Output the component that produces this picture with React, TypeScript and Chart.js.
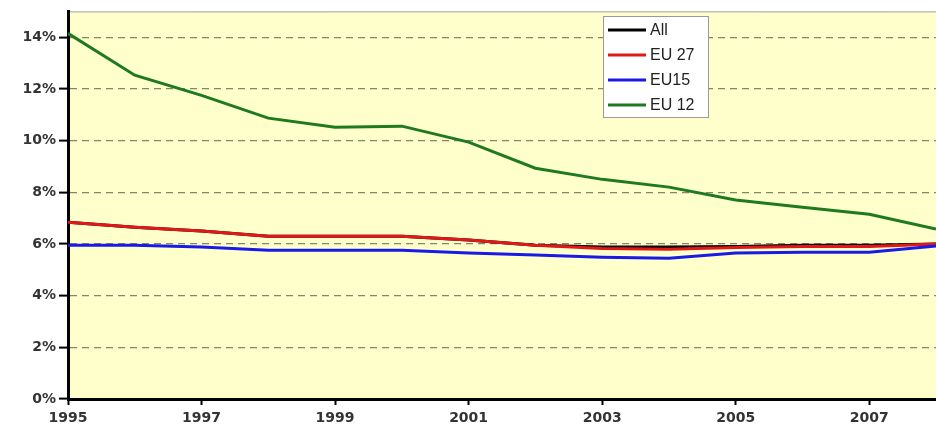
import React, { useEffect, useRef } from "react";
import { Chart, registerables } from "chart.js";

Chart.register(...registerables);

const years = [1995, 1996, 1997, 1998, 1999, 2000, 2001, 2002, 2003, 2004, 2005, 2006, 2007, 2008];
const xTickYears = [1995, 1997, 1999, 2001, 2003, 2005, 2007];
const yTickValues = [0, 2, 4, 6, 8, 10, 12, 14];

const seriesNames = ["All", "EU 27", "EU15", "EU 12"];
const seriesColors = ["#000000", "#e01818", "#1a1ae6", "#1f7a1f"];

const allValues = [6.84, 6.65, 6.5, 6.3, 6.3, 6.3, 6.15, 5.95, 5.88, 5.88, 5.9, 5.95, 5.95, 6.0];
const eu27Values = [6.84, 6.65, 6.5, 6.3, 6.3, 6.3, 6.15, 5.95, 5.82, 5.8, 5.86, 5.9, 5.9, 6.0];
const eu15Values = [5.95, 5.95, 5.88, 5.76, 5.76, 5.76, 5.65, 5.57, 5.49, 5.45, 5.65, 5.68, 5.68, 5.92];
const eu12Values = [14.15, 12.53, 11.75, 10.87, 10.52, 10.56, 9.94, 8.93, 8.5, 8.2, 7.7, 7.42, 7.15, 6.58];

const seriesValues = [allValues, eu27Values, eu15Values, eu12Values];

const TICK_FONT = "'DejaVu Sans', Verdana, sans-serif";
const LEGEND_FONT = "'Liberation Sans', Arial, sans-serif";

const bgPlugin = {
  id: "bgPlugin",
  beforeDraw(chart: any) {
    const { ctx, chartArea } = chart;
    ctx.save();
    ctx.fillStyle = "#ffffcc";
    ctx.fillRect(chartArea.left, chartArea.top, chartArea.right - chartArea.left, chartArea.bottom - chartArea.top);
    ctx.strokeStyle = "#a0a0a0";
    ctx.lineWidth = 1;
    ctx.beginPath();
    ctx.moveTo(chartArea.left, chartArea.top + 0.5);
    ctx.lineTo(chartArea.right, chartArea.top + 0.5);
    ctx.stroke();
    ctx.restore();
  },
};

const legendPlugin = {
  id: "customLegend",
  afterDraw(chart: any) {
    const { ctx } = chart;
    const x0 = 603, y0 = 16, w = 105, h = 101;
    ctx.save();
    ctx.fillStyle = "#ffffff";
    ctx.fillRect(x0, y0, w, h);
    ctx.strokeStyle = "#9a9a9a";
    ctx.lineWidth = 1;
    ctx.strokeRect(x0 + 0.5, y0 + 0.5, w, h);
    ctx.font = `16px ${LEGEND_FONT}`;
    ctx.textBaseline = "middle";
    chart.data.datasets.forEach((ds: any, i: number) => {
      const y = y0 + 14 + i * 25;
      ctx.strokeStyle = ds.borderColor;
      ctx.lineWidth = 3;
      ctx.beginPath();
      ctx.moveTo(x0 + 5, y);
      ctx.lineTo(x0 + 43, y);
      ctx.stroke();
      ctx.fillStyle = "#222";
      ctx.fillText(ds.label, x0 + 47, y + 1);
    });
    ctx.restore();
  },
};

export default function App() {
  const ref = useRef<HTMLCanvasElement>(null);
  useEffect(() => {
    document.body.style.margin = "0";
    const datasets = seriesNames.map((name, si) => ({
      label: name,
      data: years.map((yr, i) => ({ x: yr, y: seriesValues[si][i] })),
      borderColor: seriesColors[si],
      backgroundColor: seriesColors[si],
      borderWidth: 3,
      pointRadius: 0,
      tension: 0,
      order: 4 - si,
    }));
    const chart = new Chart(ref.current!, {
      type: "line",
      data: { datasets },
      plugins: [bgPlugin, legendPlugin],
      options: {
        animation: false,
        responsive: false,
        layout: { padding: { top: 10, right: 0, left: 0, bottom: 0 } },
        plugins: { legend: { display: false }, tooltip: { enabled: false } },
        scales: {
          x: {
            type: "linear",
            min: 1995,
            max: 2008,
            afterBuildTicks: (s: any) => {
              s.ticks = xTickYears.map((v) => ({ value: v }));
            },
            afterFit: (s: any) => {
              s.height = 27;
            },
            grid: { display: true, drawOnChartArea: false, tickLength: 6, tickColor: "#000", tickWidth: 2 },
            border: { color: "#000", width: 3 },
            ticks: {
              autoSkip: false,
              maxRotation: 0,
              padding: 5,
              color: "#333",
              font: { family: TICK_FONT, size: 14, weight: "bold" },
              callback: (v: any) => String(v),
            },
          },
          y: {
            min: 0,
            max: 15,
            afterBuildTicks: (s: any) => {
              s.ticks = yTickValues.map((v) => ({ value: v }));
            },
            afterFit: (s: any) => {
              s.width = 68;
            },
            grid: {
              color: "#85856f",
              lineWidth: 1.2,
              tickColor: "#000",
              tickLength: 9,
              tickWidth: 2,
              tickBorderDash: [],
            },
            border: { color: "#000", width: 3, dash: [7, 5] },
            ticks: {
              padding: 3,
              color: "#333",
              font: { family: TICK_FONT, size: 14, weight: "bold" },
              callback: (v: any) => v + "%",
            },
          },
        },
      } as any,
    });
    return () => chart.destroy();
  }, []);
  return (
    <div style={{ width: 936, height: 426 }}>
      <canvas ref={ref} width={936} height={426} />
    </div>
  );
}
